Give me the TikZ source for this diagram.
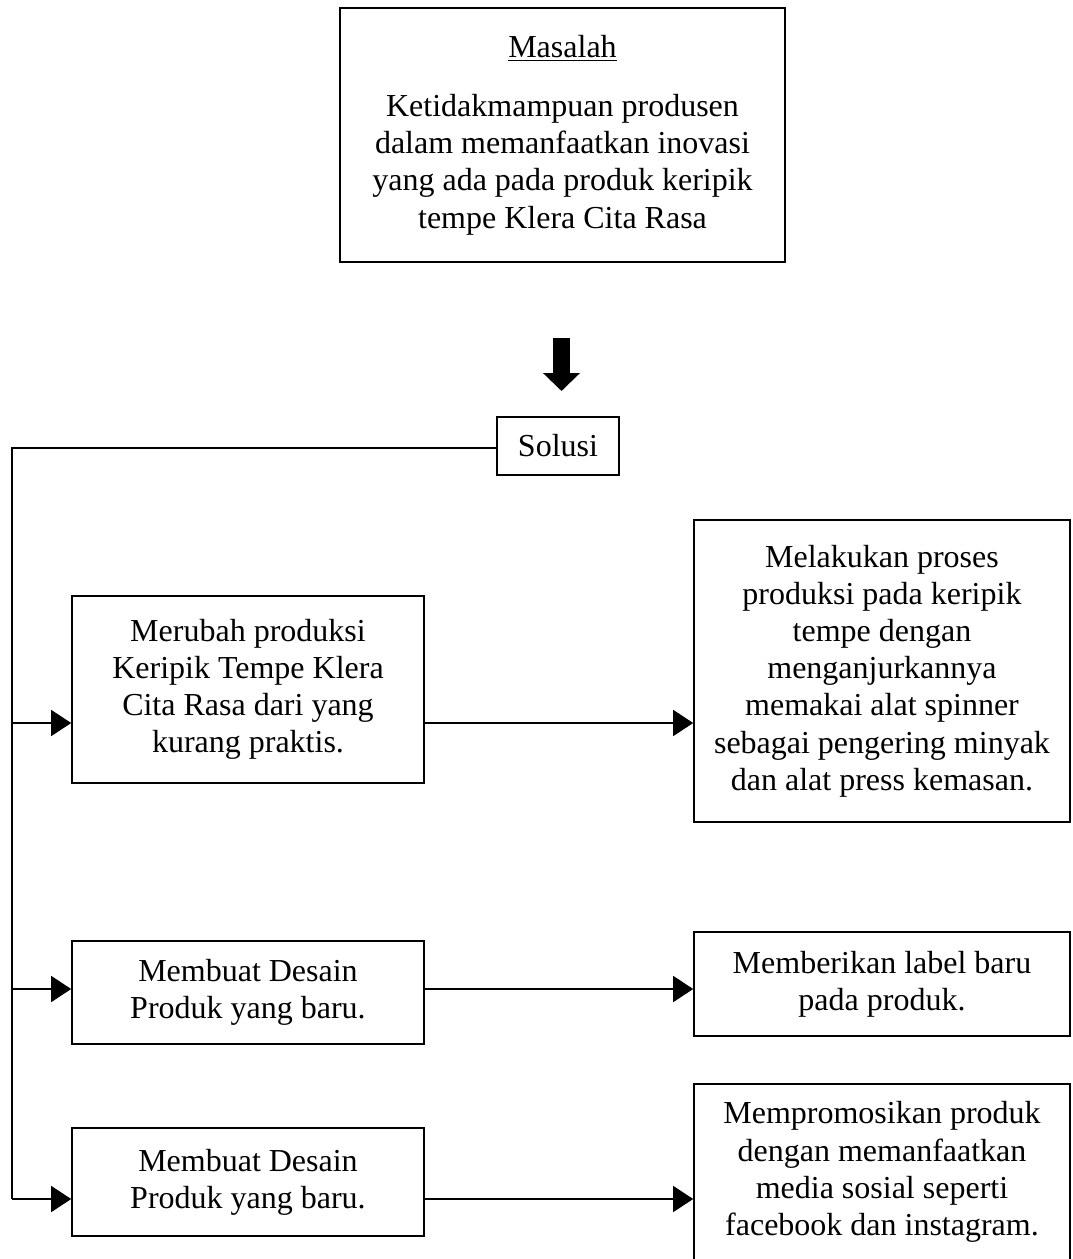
\documentclass[tikz,border=0pt]{standalone}
\usepackage{fontspec}
\setmainfont{Liberation Serif}
\usetikzlibrary{arrows.meta}

\tikzset{
  kotak/.style = {draw, line width = 0.8pt, align = center, inner sep = 0pt,
    font = \fontsize{16}{18.6}\selectfont},
  garis/.style = {line width = 0.7pt},
  panah/.style = {garis, -{Triangle[length = 10pt, width = 13pt]}}
}

\begin{document}
\begin{tikzpicture}[x = 0.5pt, y = -0.5pt]
\useasboundingbox (0,0) rectangle (1072,1259);
\node[kotak, minimum width = 222.5pt, minimum height = 127pt] (masalah) at (562.5,135)
  {\underline{Masalah}\\[11pt] Ketidakmampuan produsen\\ dalam memanfaatkan inovasi\\ yang ada pada produk keripik\\ tempe Klera Cita Rasa};
\node[kotak, minimum width = 61pt, minimum height = 29pt] (solusi) at (558,446) {Solusi};
\coordinate (atas) at (561.5,338);
\coordinate (bawah) at (561.5,391);
\draw[line width = 8.5pt, -{Triangle[length = 9pt, width = 18pt]}] (atas) -- (bawah);

\node[kotak, minimum width = 176pt, minimum height = 93.5pt] (b1) at (248,689.5)
  {Merubah produksi\\ Keripik Tempe Klera\\ Cita Rasa dari yang\\ kurang praktis.};
\node[kotak, minimum width = 176pt, minimum height = 51.5pt] (b2) at (248,992.5)
  {Membuat Desain\\ Produk yang baru.};
\node[kotak, minimum width = 176pt, minimum height = 54pt] (b3) at (248,1182)
  {Membuat Desain\\ Produk yang baru.};
\node[kotak, minimum width = 188pt, minimum height = 151pt] (r1) at (882,671)
  {Melakukan proses\\ produksi pada keripik\\ tempe dengan\\ menganjurkannya\\ memakai alat spinner\\ sebagai pengering minyak\\ dan alat press kemasan.};
\node[kotak, minimum width = 188pt, minimum height = 52pt] (r2) at (882,984)
  {Memberikan label baru\\ pada produk.};
\node[kotak, minimum width = 188pt, minimum height = 88pt] (r3) at (882,1172)
  {Mempromosikan produk\\ dengan memanfaatkan\\ media sosial seperti\\ facebook dan instagram.};

\coordinate (sudut) at (12,448);
\foreach \kiri/\kanan/\geser in {b1/r1/-16.75pt, b2/r2/1.75pt, b3/r3/-8.5pt}
{
  \coordinate (m\kiri) at ([yshift = \geser]\kiri.west);
  \draw[panah] (sudut |- m\kiri) -- (m\kiri);
  \draw[panah] (\kiri.east |- m\kiri) -- (\kanan.west |- m\kiri);
}
\draw[garis] (solusi.west |- sudut) -- (sudut) -- (sudut |- mb3);
\end{tikzpicture}
\end{document}
